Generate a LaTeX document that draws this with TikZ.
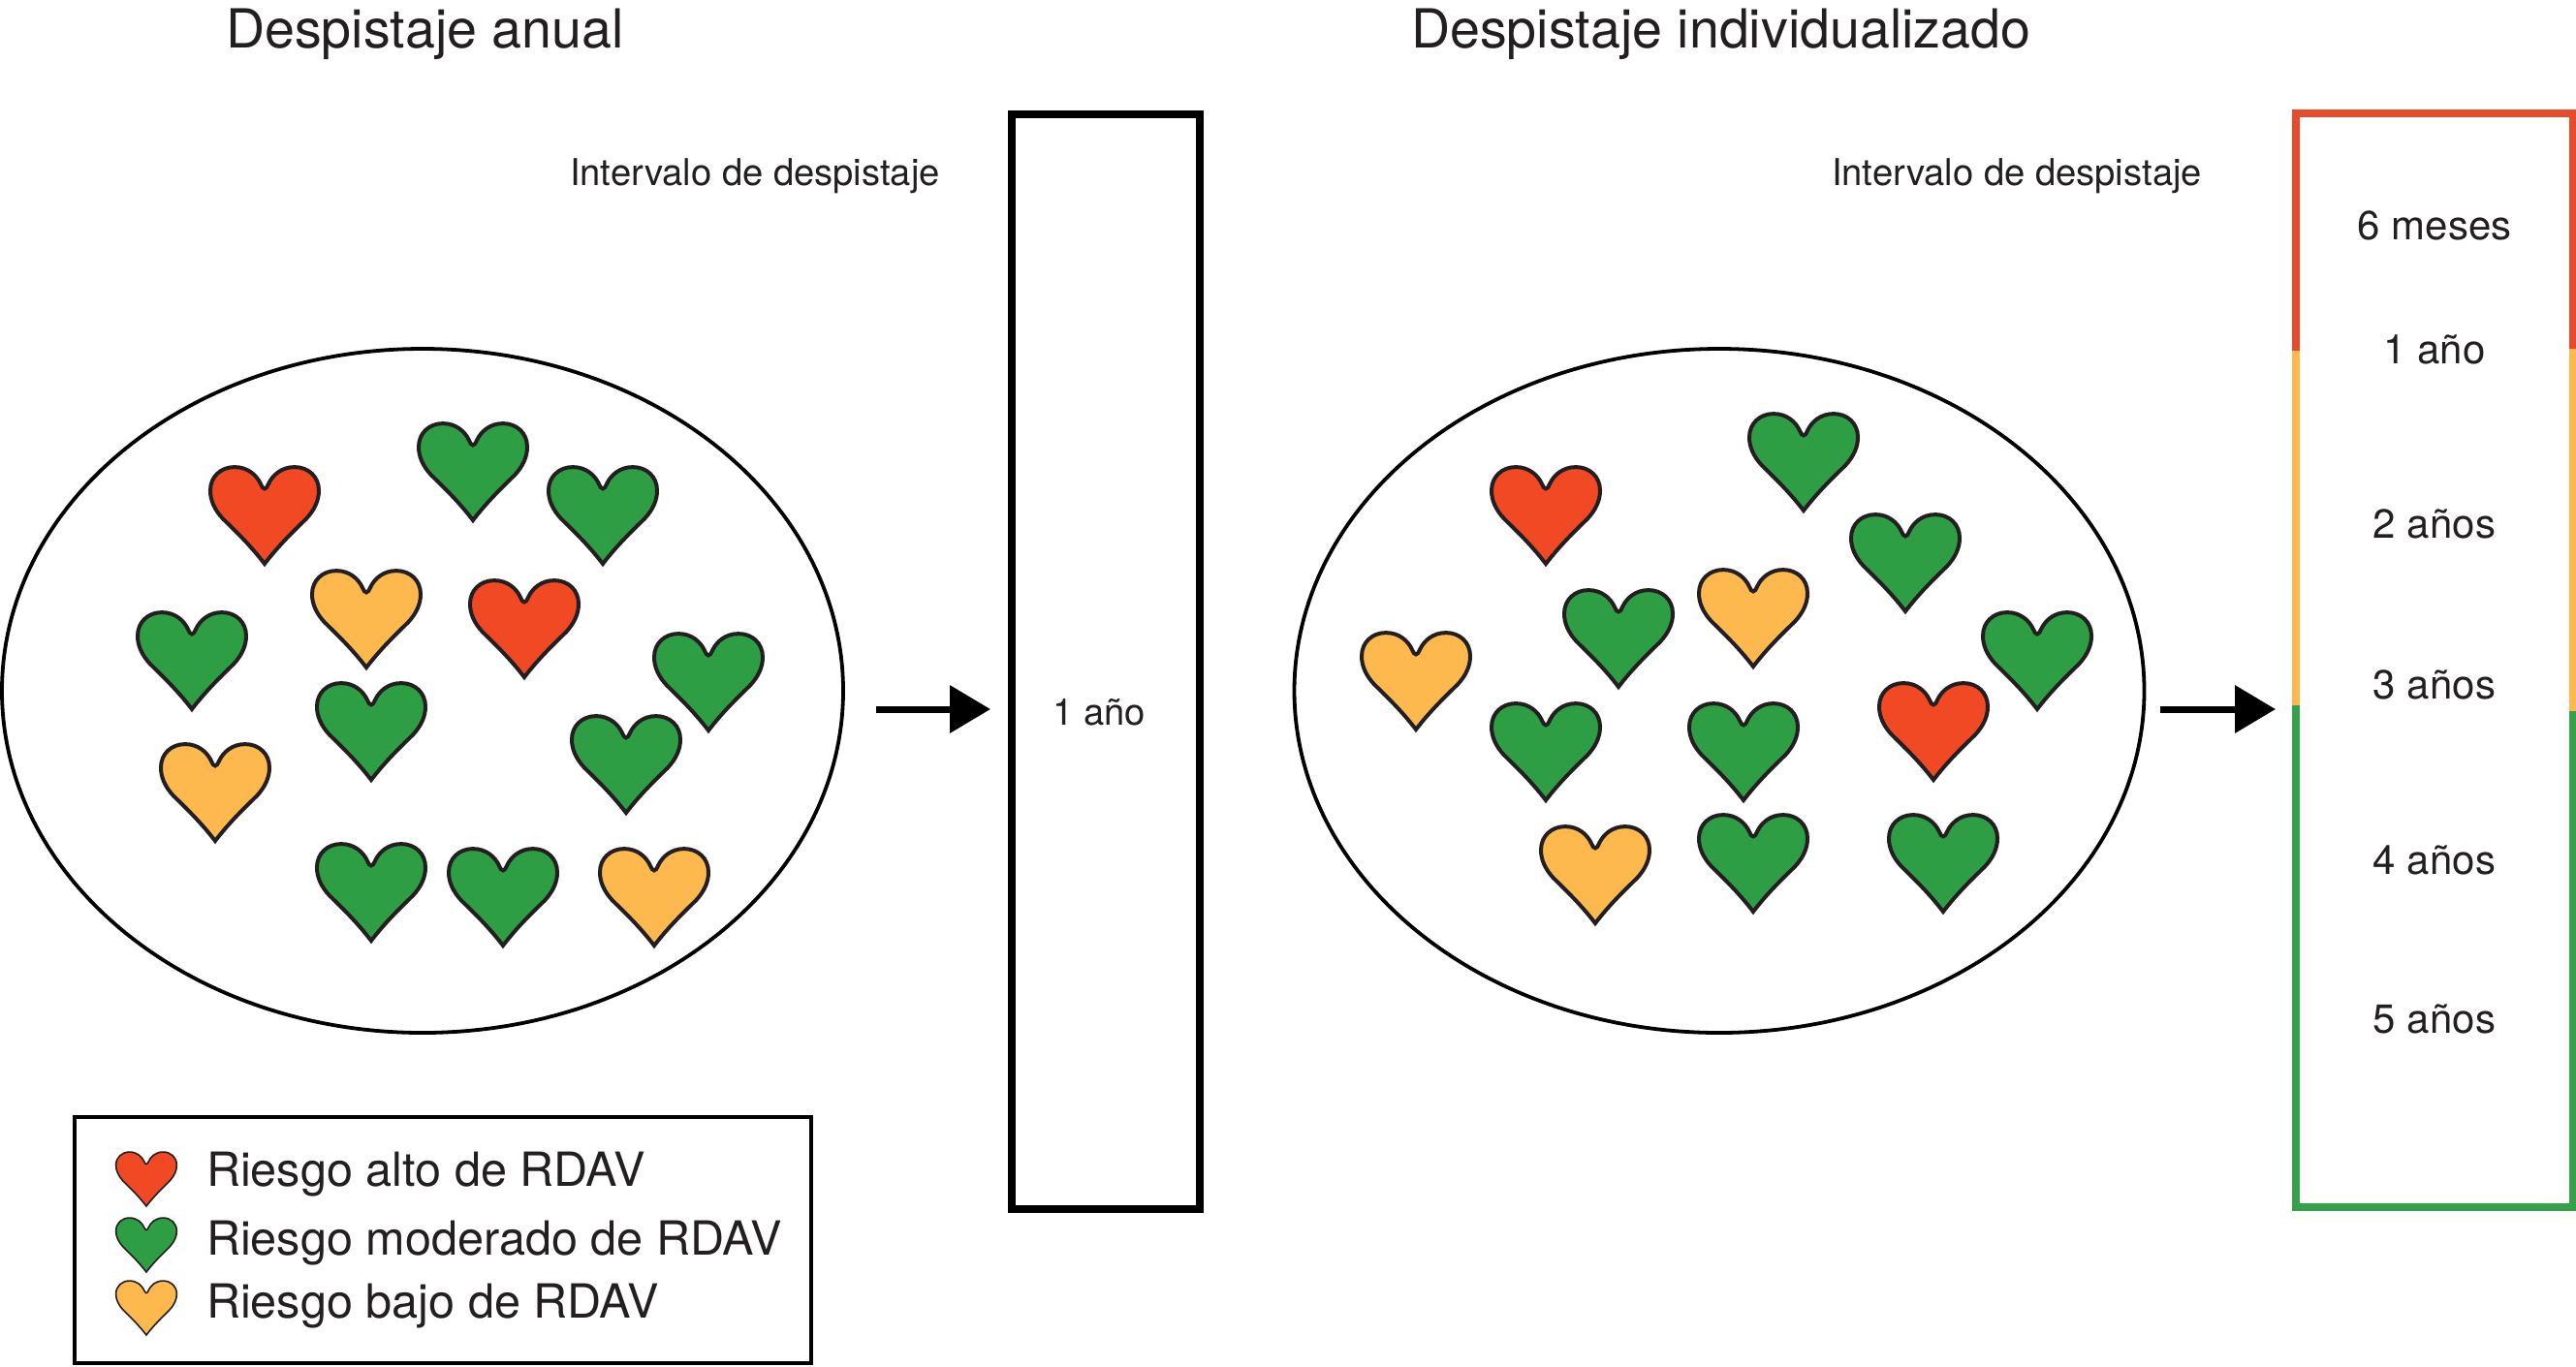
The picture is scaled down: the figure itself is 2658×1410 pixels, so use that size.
\documentclass[tikz,border=0pt]{standalone}
\usepackage{fontspec}
\setmainfont{TeX Gyre Heros}
\usetikzlibrary{arrows.meta,shapes.geometric}
\definecolor{hr}{HTML}{F04923}
\definecolor{hg}{HTML}{2E9E45}
\definecolor{hy}{HTML}{FDB94D}
\definecolor{br}{HTML}{E84B2C}
\definecolor{bg}{HTML}{36A04A}
\definecolor{ink}{HTML}{231F20}
\tikzset{
  heart/.pic={
    \draw[fill=#1,draw=ink,line join=miter,yscale=.97]
      (0,0) .. controls (-14,-19) and (-30,-35) .. (-43,-48)
      .. controls (-52,-58) and (-56,-68) .. (-56,-78)
      .. controls (-56,-93) and (-45,-103) .. (-31,-103)
      .. controls (-17,-103) and (-8,-94) .. (-4,-85)
      .. controls (-3,-82) and (-1.5,-80) .. (0,-80)
      .. controls (1.5,-80) and (3,-82) .. (4,-85)
      .. controls (8,-94) and (17,-103) .. (31,-103)
      .. controls (45,-103) and (56,-93) .. (56,-78)
      .. controls (56,-68) and (52,-58) .. (43,-48)
      .. controls (30,-35) and (14,-19) .. (0,0) -- cycle;
  },
  crowd/.style={draw=black,line width=1.9pt,fill=none},
  title/.style={anchor=base west,inner sep=0pt,text=ink,font=\fontsize{27.8}{30}\selectfont},
  label/.style={anchor=base,inner sep=0pt,text=ink,font=\fontsize{19.1}{22}\selectfont},
  band/.style={anchor=base,inner sep=0pt,text=ink,font=\fontsize{21}{24}\selectfont},
  legendtext/.style={anchor=base west,inner sep=0pt,text=ink,font=\fontsize{24.3}{28}\selectfont},
  flow/.style={line width=3.5pt,-{Triangle[length=21pt,width=24pt]},black},
  seg/.style={line width=3.6pt,line cap=butt},
}
\begin{document}
\begin{tikzpicture}[x=0.5pt,y=-0.5pt,line width=2pt]
\useasboundingbox (0,0) rectangle (2658,1410);
% titles
\node[title] (t1) at (231,49) {Despistaje anual};
\node[title] (t2) at (1454,49) {Despistaje individualizado};
% populations
\node[crowd,shape=ellipse,minimum width=434pt,minimum height=353pt,inner sep=0pt] (e1) at (436,713) {};
\node[crowd,shape=ellipse,minimum width=438.5pt,minimum height=353pt,inner sep=0pt] (e2) at (1774,713) {};
% left hearts
\foreach \x/\y/\c in {273/582/hr,488/537/hg,622/582/hg,378/689/hy,541/699/hr,198/732/hg,731/754/hg,383/805/hg,646/839/hg,222/868/hy,383/971/hg,519/976/hg,675/976/hy}
  \pic at (\x,\y) {heart=\c};
% right hearts
\foreach \x/\y/\c in {1595/582/hr,1861/527/hg,1966/631/hg,1670/709/hg,1809/688/hy,1461/753/hy,2102/732/hg,1595/826/hg,1799/826/hg,1995/805/hr,1646/953/hy,1809/941/hg,2005/941/hg}
  \pic at (\x,\y) {heart=\c};
% labels
\node[label] (i1) at (779,191) {Intervalo de despistaje};
\node[label] (i2) at (2081,191) {Intervalo de despistaje};
% left interval box
\node[draw=black,line width=4pt,minimum width=97pt,minimum height=565pt,inner sep=0pt] (b1) at (1141,682.5) {};
\node[label] (y1) at (1134,748) {1 año};
% arrows
\coordinate (a1s) at (904,732);
\coordinate (a1e) at (1022,732);
\coordinate (a2s) at (2229,732);
\coordinate (a2e) at (2348,732);
\draw[flow] (a1s) -- (a1e);
\draw[flow] (a2s) -- (a2e);
% right interval box
\draw[seg,br] (2369,362) -- (2369,117) -- (2654.5,117) -- (2654.5,360);
\draw[seg,hy] (2369,362) -- (2369,728);
\draw[seg,hy] (2654.5,360) -- (2654.5,734);
\draw[seg,bg] (2369,728) -- (2369,1246) -- (2654.5,1246) -- (2654.5,734);
\node[band] (m6) at (2512,247) {6 meses};
\node[band] (y1b) at (2512,375) {1 año};
\node[band] (y2) at (2512,555) {2 años};
\node[band] (y3) at (2512,721) {3 años};
\node[band] (y4) at (2512,902) {4 años};
\node[band] (y5) at (2512,1066) {5 años};
% legend
\node[draw=black,line width=1.8pt,minimum width=380pt,minimum height=127pt,inner sep=0pt] (leg) at (457,1280) {};
\begin{scope}[line width=.8pt]
\pic[scale=.56] at (151,1245) {heart=hr};
\pic[scale=.56] at (151,1313) {heart=hg};
\pic[scale=.56] at (151,1378) {heart=hy};
\end{scope}
\node[legendtext] (l1) at (211,1224) {Riesgo alto de RDAV};
\node[legendtext] (l2) at (211,1295) {Riesgo moderado de RDAV};
\node[legendtext] (l3) at (211,1360) {Riesgo bajo de RDAV};
\end{tikzpicture}
\end{document}
